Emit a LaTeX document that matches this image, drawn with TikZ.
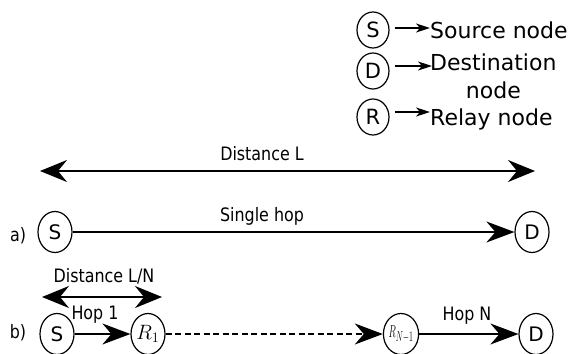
\documentclass[tikz,border=0pt]{standalone}
\usepackage{fontspec}
\setmainfont{DejaVu Sans}
\newfontfamily\condfont[FakeStretch=0.86]{DejaVu Sans}
\usetikzlibrary{shapes.geometric,arrows.meta}

\begin{document}
\begin{tikzpicture}[x=1pt,y=-1pt,
  every node/.style={inner sep=0pt},
  nd/.style={draw, ellipse, line width=1.2pt, minimum width=34pt, minimum height=41pt,
    font=\fontsize{20}{20}\selectfont},
  lg/.style={nd, minimum width=32pt, minimum height=36pt, font=\fontsize{21}{21}\selectfont},
  lab/.style={font=\condfont\fontsize{18.5}{18.5}\selectfont},
  lgtext/.style={anchor=west, align=center, font=\fontsize{22}{28}\selectfont},
  link/.style={line width=1.4pt, -{Stealth[length=28pt,width=21pt,inset=9pt]}},
  span/.style={line width=1.4pt,
    {Stealth[length=27pt,width=22pt,inset=9pt]}-{Stealth[length=27pt,width=22pt,inset=9pt]}},
  key/.style={line width=1.4pt, -{Stealth[length=14pt,width=9pt,inset=4pt]}}
]
\useasboundingbox (0,0) rectangle (577,353);

% legend
\node[lg] (lS) at (373,30) {S};
\node[lg] (lD) at (373,71) {D};
\node[lg] (lR) at (373,117) {R};
\node[lgtext] (tS) at (430,30) {Source node};
\node[lgtext] (tD) at (430,76) {Destination\\node};
\node[lgtext] (tR) at (430,119) {Relay node};
\draw[key, shorten <=5pt] ([yshift=2pt]lS.east) -- ([yshift=2pt]lS.east -| tS.west);
\draw[key, shorten <=5pt] ([yshift=5pt]lD.east) -- ([xshift=2pt,yshift=5pt]lD.east -| tD.west);
\draw[key, shorten <=5pt] ([yshift=5pt]lR.east) -- ([yshift=5pt]lR.east -| tR.west);

% overall distance
\coordinate (L0) at (40,171);
\coordinate (L1) at (535,171);
\draw[span] (L0) -- (L1);
\node[lab] (tL) at (262,154) {Distance L};

% a) single hop
\node[lab] (la) at (18,236) {a)};
\node[nd] (aS) at (55,232) {S};
\node[nd] (aD) at (532,232) {D};
\draw[link] (aS) -- (aD);
\node[lab] (ta) at (262,216) {Single hop};

% b) multi hop
\node[lab] (tLN) at (104,276) {Distance L/N};
\coordinate (N0) at (42,297);
\coordinate (N1) at (162,297);
\draw[span] (N0) -- (N1);
\node[lab] (lb) at (18,333) {b)};
\node[nd] (bS) at (57,334) {S};
\node[nd, font=\fontsize{22}{22}\selectfont] (bR1) at (148,334) {$R_1$};
\node[nd, font=\fontsize{19}{19}\selectfont] (bRN) at (401,334) {\scalebox{0.56}[1]{$R_{N-1}$}};
\node[nd] (bD) at (536,334) {D};
\draw[link] (bS) -- (bR1);
\draw[link, dash pattern=on 6pt off 3.5pt] (bR1) -- (bRN);
\draw[link] (bRN) -- (bD);
\node[lab] (h1) at (95,315) {Hop 1};
\node[lab] (hN) at (467,316) {Hop N};
\end{tikzpicture}
\end{document}
